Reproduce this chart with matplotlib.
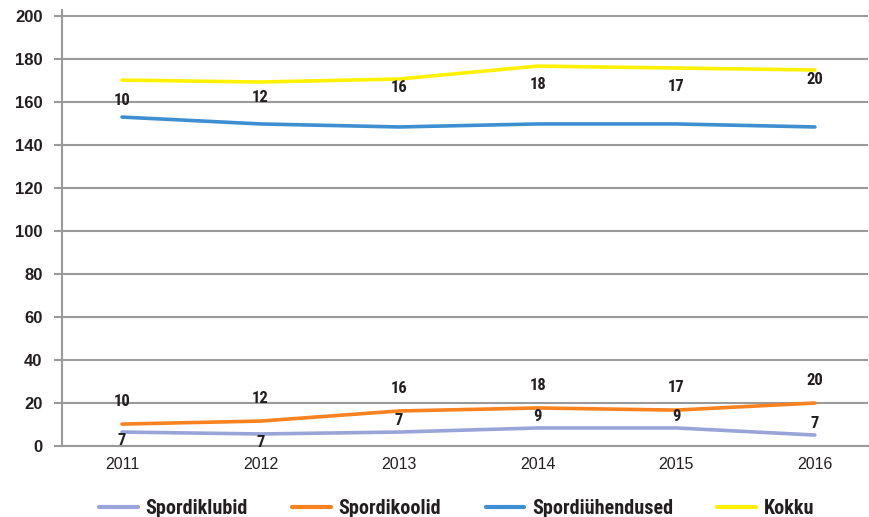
import matplotlib.pyplot as plt
import numpy as np

years = ["2011", "2012", "2013", "2014", "2015", "2016"]

spordiklubid = [6.5, 5.6, 6.5, 8.4, 8.4, 5.1]
spordikoolid = [10.2, 11.6, 16.3, 17.7, 16.7, 20.0]
spordiuhendused = [153.0, 149.8, 148.4, 149.8, 149.8, 148.4]
kokku = [170.2, 169.3, 170.7, 176.7, 175.8, 174.9]

klubid_labels = ["7", "7", "7", "9", "9", "7"]
koolid_labels = ["10", "12", "16", "18", "17", "20"]
# the reference repeats the Spordikoolid labels next to the Kokku line
kokku_labels = koolid_labels

colors = {
    "Spordiklubid": "#99A5D8",
    "Spordikoolid": "#F7821F",
    "Spordiühendused": "#3D8FD1",
    "Kokku": "#FFF100",
}

narrow = ["Roboto Condensed", "Fira Sans Condensed", "Asap Condensed",
          "Liberation Sans Narrow", "Liberation Sans", "DejaVu Sans"]
plt.rcParams["font.family"] = ["Liberation Sans", "DejaVu Sans"]

fig = plt.figure(figsize=(8.69, 5.17), dpi=100)
ax = fig.add_axes([0.0713, 0.1373, 0.927, 0.8442])

x = np.arange(len(years))
series = [
    ("Spordiklubid", spordiklubid),
    ("Spordikoolid", spordikoolid),
    ("Spordiühendused", spordiuhendused),
    ("Kokku", kokku),
]
for name, vals in series:
    ax.plot(x, vals, color=colors[name], lw=2.6, label=name,
            solid_capstyle="round", zorder=3)

lbl = dict(ha="center", fontsize=12, fontweight="bold", family=narrow,
           color="#231f20", zorder=4)
for i in range(len(years)):
    ax.annotate(koolid_labels[i], (x[i], spordikoolid[i]), xytext=(0, 11),
                textcoords="offset points", va="bottom", **lbl)
    # Kokku labels sit where the Spordikoolid labels would be, 140 units up
    ax.annotate(kokku_labels[i], (x[i], spordikoolid[i] + 140), xytext=(0, 11),
                textcoords="offset points", va="bottom", **lbl)
    if i < 2:
        ax.annotate(klubid_labels[i], (x[i], spordiklubid[i]), xytext=(0, -1),
                    textcoords="offset points", va="top", **lbl)
    else:
        ax.annotate(klubid_labels[i], (x[i], spordiklubid[i]), xytext=(0, 3),
                    textcoords="offset points", va="bottom", **lbl)

ax.set_xlim(-0.433, 5.38)
ax.set_ylim(0, 203)
ax.set_yticks(np.arange(0, 201, 20))
ax.set_xticks(x)
ax.set_xticklabels(years)
ax.yaxis.grid(True, color="#9a9a9a", lw=1.5, zorder=0)
ax.set_axisbelow(True)

for s in ["top", "right"]:
    ax.spines[s].set_visible(False)
for s in ["left", "bottom"]:
    ax.spines[s].set_color("#9a9a9a")
    ax.spines[s].set_linewidth(1.5)

ax.tick_params(axis="y", length=6, width=1.5, color="#9a9a9a", pad=8,
               labelsize=12)
ax.tick_params(axis="x", length=0, pad=8, labelsize=11.5, labelcolor="#231f20")
for t in ax.get_yticklabels():
    t.set_fontweight("bold")
    t.set_color("#231f20")

leg = ax.legend(loc="upper center", bbox_to_anchor=(0.49, -0.08), ncol=4,
                frameon=False, handlelength=1.9, handletextpad=0.4,
                columnspacing=2.2,
                prop={"family": narrow, "weight": "bold", "size": 14.5})
for line in leg.get_lines():
    line.set_linewidth(3)
for t in leg.get_texts():
    t.set_color("#231f20")

fig.savefig("out.png", dpi=100)
